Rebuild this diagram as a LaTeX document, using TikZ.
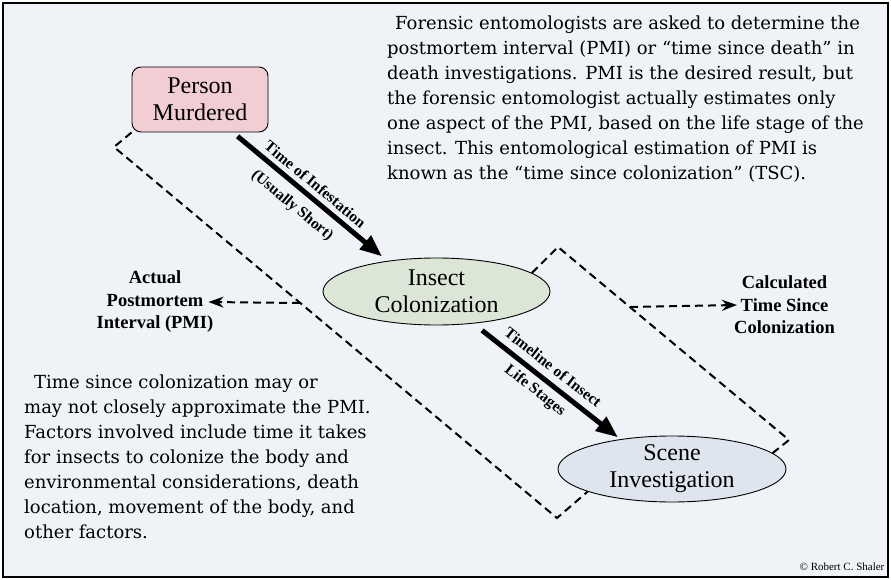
\documentclass[tikz,border=0pt]{standalone}
\usepackage{fontspec}
\setmainfont{Liberation Serif}
\newfontfamily\slabfont{DejaVu Serif}
\usetikzlibrary{arrows.meta,shapes.geometric}

\definecolor{panelbg}{HTML}{EFF3F8}
\definecolor{murderfill}{HTML}{F2CED4}
\definecolor{colonfill}{HTML}{DCE6D6}
\definecolor{scenefill}{HTML}{DFE5EE}

\begin{document}
\begin{tikzpicture}[x=1pt,y=-1pt,
    stage/.style={draw,line width=0.9pt,inner sep=0pt},
    oval/.style={stage,ellipse,minimum width=227pt,minimum height=67pt},
    stagetext/.style={align=center,font=\fontsize{24}{27}\selectfont},
    result/.style={align=center,inner sep=0pt,font=\bfseries\fontsize{18.5}{22.5}\selectfont},
    note/.style={align=left,inner sep=0pt,anchor=north west,font=\slabfont\fontsize{18}{25}\selectfont},
    timeline/.style={line width=5pt,-{Triangle[length=22pt,width=17pt]}},
    steplabel/.style={font=\bfseries\fontsize{15.5}{18}\selectfont,sloped,inner sep=2pt}]
  \useasboundingbox (0,0) rectangle (891,580);
  %% Draw the frame
  \draw[line width=2pt,fill=panelbg] (3,3) rectangle (888,577);
  %% Draw the nodes
  \node[stage,rectangle,rounded corners=9pt,fill=murderfill,minimum width=136pt,
    minimum height=65pt,stagetext] (PM) at (200,99.5) {Person\\Murdered};
  \node[oval,fill=colonfill,label={[stagetext]center:Insect\\Colonization}] (IC) at (436.5,291.5) {};
  \node[oval,fill=scenefill,minimum width=228pt,minimum height=66pt,
    label={[stagetext]center:Scene\\Investigation}] (SI) at (672,469) {};
  %% Draw the side labels
  \node[result] (PMI) at (155,302) {Actual\\Postmortem\\Interval (PMI)};
  \node[result] (TSC) at (784.5,305) {Calculated\\Time Since\\Colonization};
  %% Draw the text blocks
  \node[note] (topnote) at (387,16) {\hspace*{8pt}Forensic entomologists are asked to determine the\\
    postmortem interval (PMI) or “time since death” in\\
    death investigations. PMI is the desired result, but\\
    the forensic entomologist actually estimates only\\
    one aspect of the PMI, based on the life stage of the\\
    insect. This entomological estimation of PMI is\\
    known as the “time since colonization” (TSC).};
  \node[note] (bottomnote) at (24,375) {\hspace*{10pt}Time since colonization may or\\
    may not closely approximate the PMI.\\
    Factors involved include time it takes\\
    for insects to colonize the body and\\
    environmental considerations, death\\
    location, movement of the body, and\\
    other factors.};
  \node[font=\fontsize{11}{13}\selectfont] (credit) at (842,567) {\textcopyright{} Robert C. Shaler};
  %% Draw the bracket corners
  \coordinate (lb1) at (114,147);
  \coordinate (lb2) at (557,518);
  \coordinate (rb1) at (558,247);
  \coordinate (rb2) at (789,440);
  \coordinate (pmiFoot) at (300,303);
  \coordinate (tscFoot) at (630,307);
  %% Draw the edges
  \draw[timeline,shorten <=6pt,shorten >=7pt] (PM.-45) -- (IC.148)
    node[steplabel,pos=0.48,above=3pt] {Time of Infestation}
    node[steplabel,pos=0.46,below=7pt] {(Usually Short)};
  \draw[timeline,shorten <=11pt,shorten >=3pt] (IC.-41) -- (SI.150)
    node[steplabel,pos=0.48,above=5pt] {Timeline of Insect}
    node[steplabel,pos=0.48,below=3pt] {Life Stages};
  \begin{scope}[every path/.style={dashed,line width=2pt,dash pattern=on 8pt off 5pt}]
    \draw (PM.south west) -- (lb1) -- (lb2) -- (SI.-165);
    \draw (IC.11) -- (rb1) -- (rb2) -- (SI.9);
    \draw[-{Stealth[length=15pt,width=11pt]}] (pmiFoot) -- ([xshift=-5pt]PMI.east);
    \draw[-{Stealth[length=15pt,width=11pt]}] (tscFoot) -- ([xshift=3pt]TSC.west);
  \end{scope}
\end{tikzpicture}
\end{document}
